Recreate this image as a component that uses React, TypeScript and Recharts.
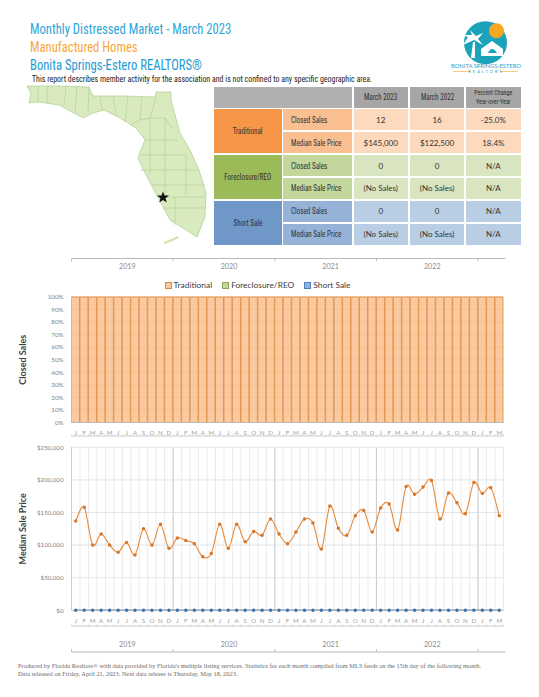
import React from "react";
import {
  Bar,
  BarChart,
  CartesianGrid,
  ComposedChart,
  Legend,
  Line,
  XAxis,
  YAxis,
} from "recharts";

const MONTHS = [
  "J", "F", "M", "A", "M", "J", "J", "A", "S", "O", "N", "D",
  "J", "F", "M", "A", "M", "J", "J", "A", "S", "O", "N", "D",
  "J", "F", "M", "A", "M", "J", "J", "A", "S", "O", "N", "D",
  "J", "F", "M", "A", "M", "J", "J", "A", "S", "O", "N", "D",
  "J", "F", "M",
];
const YEARS = ["2019", "2020", "2021", "2022"];

const TRADITIONAL_SHARE = [
  100, 100, 100, 100, 100, 100, 100, 100, 100, 100, 100, 100,
  100, 100, 100, 100, 100, 100, 100, 100, 100, 100, 100, 100,
  100, 100, 100, 100, 100, 100, 100, 100, 100, 100, 100, 100,
  100, 100, 100, 100, 100, 100, 100, 100, 100, 100, 100, 100,
  100, 100, 100,
];
const FORECLOSURE_SHARE = [
  0, 0, 0, 0, 0, 0, 0, 0, 0, 0, 0, 0,
  0, 0, 0, 0, 0, 0, 0, 0, 0, 0, 0, 0,
  0, 0, 0, 0, 0, 0, 0, 0, 0, 0, 0, 0,
  0, 0, 0, 0, 0, 0, 0, 0, 0, 0, 0, 0,
  0, 0, 0,
];
const SHORT_SHARE = FORECLOSURE_SHARE;

const TRADITIONAL_PRICE = [
  137000, 158000, 100000, 117000, 100000, 89000, 104000, 85000, 125000, 100000, 132000, 95000,
  111000, 107000, 102000, 82000, 87000, 132000, 95000, 132000, 105000, 121000, 115000, 140000,
  117000, 102000, 120000, 140000, 134000, 94000, 160000, 126000, 115000, 145000, 153000, 120000,
  157000, 163000, 123000, 190000, 178000, 189000, 199000, 140000, 180000, 165000, 148000, 196000,
  179000, 188000, 145000,
];
const FORECLOSURE_PRICE = FORECLOSURE_SHARE;
const SHORT_PRICE = FORECLOSURE_SHARE;

const TABLE_HEAD = ["March 2023", "March 2022"];
const TABLE_GROUPS = ["Traditional", "Foreclosure/REO", "Short Sale"];
const TABLE_METRICS = ["Closed Sales", "Median Sale Price"];
const TABLE_VALUES = [
  ["12", "16", "-25.0%"],
  ["$145,000", "$122,500", "18.4%"],
  ["0", "0", "N/A"],
  ["(No Sales)", "(No Sales)", "N/A"],
  ["0", "0", "N/A"],
  ["(No Sales)", "(No Sales)", "N/A"],
];

const LEGEND_NAMES = ["Traditional", "Foreclosure/REO", "Short Sale"];
const LEGEND_FILLS = ["#fac99f", "#c3d69b", "#8db4e2"];
const LEGEND_EDGES = ["#e08a3e", "#8aa84f", "#4f81bd"];

const PCT_TICKS = [0, 0.1, 0.2, 0.3, 0.4, 0.5, 0.6, 0.7, 0.8, 0.9, 1];
const PRICE_TICKS = [0, 50000, 100000, 150000, 200000, 250000];

const shareRows = MONTHS.map((month, i) => ({
  month,
  traditional: TRADITIONAL_SHARE[i],
  foreclosure: FORECLOSURE_SHARE[i],
  short: SHORT_SHARE[i],
}));
const priceRows = MONTHS.map((month, i) => ({
  month,
  traditional: TRADITIONAL_PRICE[i],
  foreclosure: FORECLOSURE_PRICE[i],
  short: SHORT_PRICE[i],
}));

const SANS = "Lato, 'Noto Sans', sans-serif";
const NARROW = "'Liberation Sans Narrow', 'Roboto Condensed', Lato, sans-serif";

const PLOT_LEFT = 71.5;
const PLOT_RIGHT = 503.5;
const BAND = (PLOT_RIGHT - PLOT_LEFT) / MONTHS.length;
const monthEdges = MONTHS.map((_, i) => PLOT_LEFT + i * BAND).concat(PLOT_RIGHT);
const yearEdges = [0, 12, 24, 36, 48].map((i) => PLOT_LEFT + i * BAND);

const tickStyle = { fontSize: 6.2, fill: "#7f7f7f", fontFamily: SANS };
const monthTickStyle = { fontSize: 6.2, fill: "#a0a0a0", fontFamily: SANS };

const GROUP_COLORS = ["#f79646", "#9bbb59", "#6f97c8"];
const LABEL_COLORS = ["#f9bf90", "#c3d69b", "#95b3d7"];
const CELL_COLORS = ["#fdd9bd", "#d9e5c0", "#b9cde5"];

// excel's "smoothed line" is close to a catmull-rom spline
function excelSmooth(context: any) {
  let pts: [number, number][] = [];
  return {
    areaStart() {},
    areaEnd() {},
    lineStart() {
      pts = [];
    },
    point(x: number, y: number) {
      pts.push([+x, +y]);
    },
    lineEnd() {
      pts.forEach((p, i) => {
        if (i === 0) {
          context.moveTo(p[0], p[1]);
          return;
        }
        const p0 = pts[i - 2] || pts[i - 1];
        const p1 = pts[i - 1];
        const p3 = pts[i + 1] || p;
        context.bezierCurveTo(
          p1[0] + (p[0] - p0[0]) / 6,
          p1[1] + (p[1] - p0[1]) / 6,
          p[0] - (p3[0] - p1[0]) / 6,
          p[1] - (p3[1] - p1[1]) / 6,
          p[0],
          p[1]
        );
      });
    },
  };
}

function Abs({ x, y, w, h, bg, children, style }: any) {
  return (
    <div
      style={{
        position: "absolute",
        left: x,
        top: y,
        width: w,
        height: h,
        background: bg,
        display: "flex",
        alignItems: "center",
        justifyContent: "center",
        textAlign: "center",
        fontFamily: NARROW,
        fontSize: 8.4,
        color: "#333",
        ...style,
      }}
    >
      {children}
    </div>
  );
}

function Squeezed({ children, origin }: any) {
  return (
    <span style={{ display: "inline-block", whiteSpace: "nowrap", transform: "scaleX(0.85)", transformOrigin: origin || "center" }}>
      {children}
    </span>
  );
}

function SummaryTable() {
  const cols = [
    [353.5, 54.5],
    [409.8, 54.6],
    [466, 54.7],
  ];
  const rows = [
    [109.3, 21],
    [132, 21.3],
    [155, 21],
    [177.7, 21.3],
    [200.7, 21.3],
    [223.7, 21.3],
  ];
  return (
    <>
      <Abs x={213.5} y={86.7} w={138.3} h={21} bg="#b0b0b0" />
      {TABLE_HEAD.map((t, i) => (
        <Abs key={t} x={cols[i][0]} y={86.7} w={cols[i][1]} h={21} bg="#a6a6a6">
          <Squeezed>{t}</Squeezed>
        </Abs>
      ))}
      <Abs x={cols[2][0]} y={86.7} w={cols[2][1]} h={21} bg="#a6a6a6" style={{ fontSize: 7.2, lineHeight: "9.5px" }}>
        <Squeezed>
          Percent Change
          <br />
          Year-over-Year
        </Squeezed>
      </Abs>
      {TABLE_GROUPS.map((g, i) => (
        <Abs key={g} x={213.5} y={rows[i * 2][0]} w={68} h={rows[i * 2 + 1][0] + rows[i * 2 + 1][1] - rows[i * 2][0]} bg={GROUP_COLORS[i]}>
          <Squeezed>{g}</Squeezed>
        </Abs>
      ))}
      {rows.map((r, i) => (
        <React.Fragment key={i}>
          <Abs
            x={283.3}
            y={r[0]}
            w={68.5}
            h={r[1]}
            bg={LABEL_COLORS[Math.floor(i / 2)]}
            style={{ justifyContent: "flex-start", paddingLeft: 8, boxSizing: "border-box" }}
          >
            <Squeezed origin="left">{TABLE_METRICS[i % 2]}</Squeezed>
          </Abs>
          {TABLE_VALUES[i].map((v, j) => (
            <Abs
              key={j}
              x={cols[j][0]}
              y={r[0]}
              w={cols[j][1]}
              h={r[1]}
              bg={CELL_COLORS[Math.floor(i / 2)]}
              style={{ fontFamily: SANS, fontSize: 8 }}
            >
              {v}
            </Abs>
          ))}
        </React.Fragment>
      ))}
    </>
  );
}

function FloridaMap() {
  const county = "#aacf8e";
  return (
    <svg style={{ position: "absolute", left: 0, top: 0 }} width={539} height={260}>
      <path
        d="M27 86 L60 86 L89 87 L93 96 L125 96 L155 97 L156 92 L171 92 L171 100 L180 133 L190 150 L199 170 L206 193 L205 217 L197 237 L183 228 L170 220 L162 205 L154 190 L140 163 L138 157 L145 140 L136 128 L120 118 L104 110 L93 113 L83 118 L74 113 L59 105 L38 102 L29 103 L31 93 Z"
        fill="#d9eabf"
        stroke={county}
        strokeWidth={0.7}
      />
      <path d="M164 243 L172 240 L178 237" fill="none" stroke="#cfe4b0" strokeWidth={2} />
      <g fill="none" stroke={county} strokeWidth={0.6}>
        <path d="M38 87 L38 102 M47 87 L47 103 M66 87 L64 106 M77 87 L75 113 M89 87 L88 112" />
        <path d="M100 96 L102 110 M113 96 L116 115 M128 96 L125 122 M142 97 L140 120 L130 125" />
        <path d="M156 97 L150 118 L165 118 L172 128 M140 120 L150 118 M145 140 L178 140 M140 155 L186 155" />
        <path d="M150 118 L150 175 M165 118 L165 195 M186 155 L186 195 M140 170 L199 170" />
        <path d="M152 185 L205 185 M158 197 L205 197 M163 208 L205 208 M175 197 L175 225" />
      </g>
      <polygon
        points="163,191.5 164.5,195.5 169,195.5 165.5,198.2 166.8,202.5 163,200 159.2,202.5 160.5,198.2 157,195.5 161.5,195.5"
        fill="#111"
      />
    </svg>
  );
}

function Logo() {
  return (
    <>
      <svg style={{ position: "absolute", left: 450, top: 18 }} width={72} height={58}>
        <circle cx={35.5} cy={24.7} r={21.5} fill="#1ba3bc" />
        <circle cx={46.5} cy={12.7} r={7.5} fill="#f7a823" />
        <path d="M21 40 L23 24 L25 24 L25 40 Z" fill="#fff" />
        <path d="M24 22 L13 27 L18 19 L12 17 L22 17 L20 12 L26 18 L33 15 L28 21 L33 27 Z" fill="#fff" />
        <path d="M31 31 L42 23 L53 31 L53 38 L31 38 Z" fill="#fff" />
        <path d="M38 35 Q42 27 47 35 Z" fill="#1ba3bc" />
        <line x1={3} x2={21} y1={53.5} y2={53.5} stroke="#f7a823" strokeWidth={0.6} />
        <line x1={50} x2={68} y1={53.5} y2={53.5} stroke="#f7a823" strokeWidth={0.6} />
      </svg>
      <div style={{ position: "absolute", left: 440, top: 62, width: 92, textAlign: "center", fontFamily: SANS, fontSize: 5.8, color: "#2a9fd0", whiteSpace: "nowrap" }}>
        BONITA SPRINGS-ESTERO
      </div>
      <div style={{ position: "absolute", left: 440, top: 69, width: 92, textAlign: "center", fontFamily: SANS, fontSize: 4, letterSpacing: 2, color: "#2a9fd0", whiteSpace: "nowrap" }}>
        REALTORS
      </div>
    </>
  );
}

function YearStrip({ lineY, labelY, tickDir }: { lineY: number; labelY: number; tickDir: number }) {
  return (
    <svg style={{ position: "absolute", left: 0, top: 0, pointerEvents: "none" }} width={539} height={697}>
      <line x1={PLOT_LEFT} x2={PLOT_RIGHT + 2} y1={lineY} y2={lineY} stroke="#a6a6a6" strokeWidth={0.8} />
      {yearEdges.map((x) => (
        <line key={x} x1={x} x2={x} y1={lineY} y2={lineY + tickDir * 3} stroke="#a6a6a6" strokeWidth={0.7} />
      ))}
      {YEARS.map((y, i) => (
        <text key={y} x={yearEdges[i] + 6 * BAND + 5} y={labelY} textAnchor="middle" fontSize={7.2} fill="#8c8c8c" fontFamily={SANS}>
          {y}
        </text>
      ))}
    </svg>
  );
}

function MonthBracket({ y }: { y: number }) {
  return (
    <svg style={{ position: "absolute", left: 0, top: 0, pointerEvents: "none" }} width={539} height={697}>
      <line x1={PLOT_LEFT} x2={PLOT_RIGHT} y1={y} y2={y} stroke="#bdbdbd" strokeWidth={0.8} />
      {monthEdges.map((x) => (
        <line key={x} x1={x} x2={x} y1={y} y2={y - 1.5} stroke="#bdbdbd" strokeWidth={0.6} />
      ))}
    </svg>
  );
}

function LegendRow() {
  return (
    <div style={{ display: "flex", justifyContent: "center", alignItems: "center", gap: 10, height: 20 }}>
      {LEGEND_NAMES.map((name, i) => (
        <span key={name} style={{ display: "flex", alignItems: "center", gap: 2, fontFamily: SANS, fontSize: 8.4, color: "#404040" }}>
          <span style={{ width: 5, height: 5, background: LEGEND_FILLS[i], border: `0.7px solid ${LEGEND_EDGES[i]}` }} />
          {name}
        </span>
      ))}
    </div>
  );
}

function ClosedSalesChart() {
  return (
    <div style={{ position: "absolute", left: 0, top: 275 }}>
      <BarChart
        width={539}
        height={168}
        data={shareRows}
        stackOffset="expand"
        barCategoryGap={0}
        margin={{ top: 0, right: 35.5, bottom: 5.5, left: 11.5 }}
      >
        <Legend verticalAlign="top" height={22} content={() => <LegendRow />} />
        <CartesianGrid vertical={false} stroke="#d98f50" strokeWidth={0.6} />
        <XAxis dataKey="month" interval={0} tickLine={false} axisLine={{ stroke: "#bdbdbd" }} tick={monthTickStyle} tickMargin={2} height={15} />
        <YAxis
          width={60}
          domain={[0, 1]}
          ticks={PCT_TICKS}
          interval={0}
          tickFormatter={(v) => `${Math.round(v * 100)}%`}
          tick={tickStyle}
          tickLine={false}
          axisLine={{ stroke: "#bdbdbd" }}
          tickMargin={2}
          label={{ value: "Closed Sales", angle: -90, position: "insideLeft", offset: 11, style: { fontSize: 9, fill: "#404040", fontFamily: SANS, fontWeight: 700, textAnchor: "middle" } }}
        />
        <Bar dataKey="traditional" name="Traditional" stackId="a" fill="#f9c292" fillOpacity={0.88} stroke="#e08a3e" strokeWidth={0.8} isAnimationActive={false} />
        <Bar dataKey="foreclosure" name="Foreclosure/REO" stackId="a" fill="#c3d69b" stroke="#8aa84f" strokeWidth={0.7} isAnimationActive={false} />
        <Bar dataKey="short" name="Short Sale" stackId="a" fill="#8db4e2" stroke="#4f81bd" strokeWidth={0.7} isAnimationActive={false} />
      </BarChart>
    </div>
  );
}

function MedianPriceChart() {
  return (
    <div style={{ position: "absolute", left: 0, top: 440 }}>
      <ComposedChart
        width={539}
        height={190}
        data={priceRows}
        margin={{ top: 7.3, right: 35.5, bottom: 4.7, left: 11.5 }}
      >
        <CartesianGrid horizontal={false} verticalPoints={monthEdges} stroke="#e4e4e4" strokeWidth={0.8} />
        <CartesianGrid horizontal={false} verticalPoints={yearEdges} stroke="#c8c8c8" strokeWidth={0.9} />
        <CartesianGrid vertical={false} stroke="#dedede" strokeWidth={0.8} />
        <XAxis
          dataKey="month"
          interval={0}
          padding={{ left: BAND / 2, right: BAND / 2 }}
          tickLine={false}
          axisLine={{ stroke: "#bdbdbd" }}
          tick={monthTickStyle}
          tickMargin={2}
          height={15}
        />
        <YAxis
          width={60}
          domain={[0, 250000]}
          ticks={PRICE_TICKS}
          interval={0}
          tickFormatter={(v) => `$${Number(v).toLocaleString("en-US")}`}
          tick={tickStyle}
          tickLine={false}
          axisLine={{ stroke: "#cfcfcf" }}
          tickMargin={2}
          label={{ value: "Median Sale Price", angle: -90, position: "insideLeft", offset: 11, style: { fontSize: 9, fill: "#404040", fontFamily: SANS, fontWeight: 700, textAnchor: "middle" } }}
        />
        <Line dataKey="foreclosure" name="Foreclosure/REO" stroke="#9bbb59" strokeWidth={1} dot={false} isAnimationActive={false} />
        <Line dataKey="short" name="Short Sale" stroke="#3f70ad" strokeWidth={1.2} dot={{ r: 1.1, fill: "#3f70ad", stroke: "#3f70ad" }} isAnimationActive={false} />
        <Line type={excelSmooth as any} dataKey="traditional" name="Traditional" stroke="#e58a3c" strokeWidth={1.1} dot={{ r: 1.2, fill: "#d9772a", stroke: "#d9772a" }} isAnimationActive={false} />
      </ComposedChart>
    </div>
  );
}

export default function App() {
  const line = (top: number, color: string, text: string) => (
    <div style={{ position: "absolute", left: 30, top, fontFamily: NARROW, fontSize: 14.5, lineHeight: "18px", color, whiteSpace: "nowrap", transform: "scaleX(0.87)", transformOrigin: "left" }}>
      {text}
    </div>
  );
  return (
    <div style={{ position: "absolute", left: 0, top: 0, width: 539, height: 697, background: "#fff", overflow: "hidden" }}>
      {line(21, "#2ea6d8", "Monthly Distressed Market - March 2023")}
      {line(39, "#f6a83c", "Manufactured Homes")}
      {line(57, "#1f9bd1", "Bonita Springs-Estero REALTORS®")}
      <div style={{ position: "absolute", left: 31.5, top: 74, fontFamily: NARROW, fontSize: 8.6, lineHeight: "10px", color: "#222", whiteSpace: "nowrap", transform: "scaleX(0.92)", transformOrigin: "left" }}>
        This report describes member activity for the association and is not confined to any specific geographic area.
      </div>
      <FloridaMap />
      <Logo />
      <SummaryTable />
      <YearStrip lineY={258.5} labelY={269} tickDir={1} />
      <ClosedSalesChart />
      <MonthBracket y={436} />
      <MedianPriceChart />
      <MonthBracket y={626} />
      <YearStrip lineY={652} labelY={647} tickDir={-1} />
      <div style={{ position: "absolute", left: 18, top: 661.5, fontFamily: "'Liberation Serif', serif", fontSize: 6.4, lineHeight: "8.5px", color: "#6a6a6a", whiteSpace: "nowrap" }}>
        Produced by Florida Realtors® with data provided by Florida's multiple listing services. Statistics for each month compiled from MLS feeds on the 15th day of the following month.
        <br />
        Data released on Friday, April 21, 2023. Next data release is Thursday, May 18, 2023.
      </div>
    </div>
  );
}
